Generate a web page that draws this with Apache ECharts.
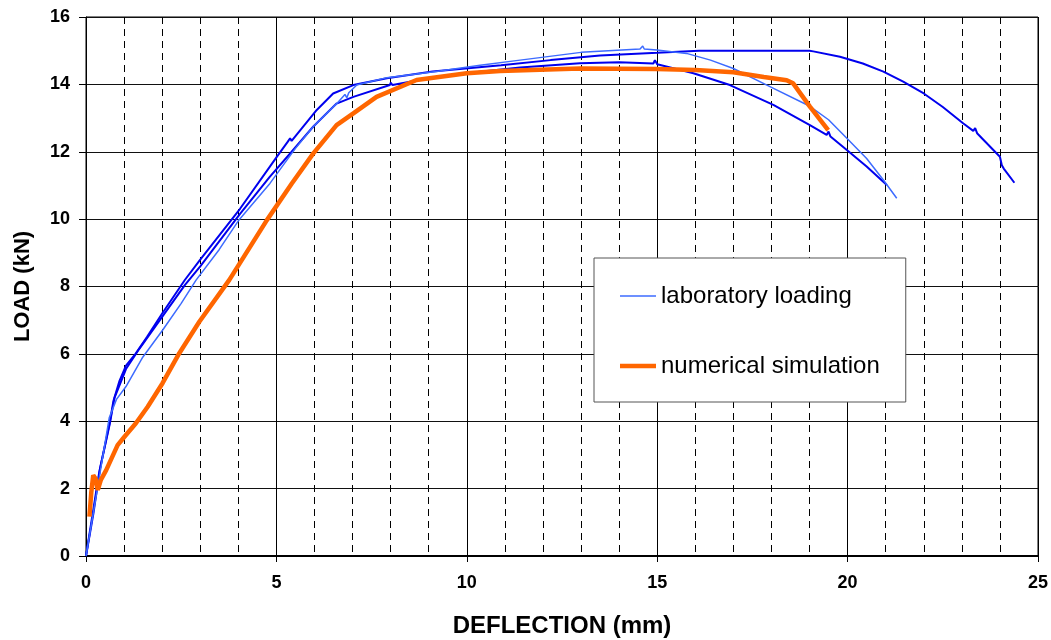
<!DOCTYPE html>
<html>
<head>
<meta charset="utf-8">
<script src="https://cdn.jsdelivr.net/npm/echarts@6/dist/echarts.min.js"></script>
<style>
  html, body { margin: 0; padding: 0; background: #fff; }
  #chart { width: 1051px; height: 640px; }
</style>
</head>
<body>
<div id="chart"></div>
<script>
// deflection (mm), load (kN) pairs
const labA = [
  [0, 0], [0.2, 1.3], [0.37, 2.6], [0.63, 4.0], [0.72, 4.6], [0.88, 5.2], [1.05, 5.65],
  [1.3, 6.0], [1.6, 6.5], [2.0, 7.2], [2.6, 8.2], [3.0, 8.8], [4.04, 10.3], [5.01, 11.85],
  [5.3, 12.3], [5.36, 12.4], [5.4, 12.32], [6.06, 13.24], [6.49, 13.73], [7.02, 13.98],
  [7.9, 14.18], [9.1, 14.38], [10.9, 14.57], [12.2, 14.72], [13.5, 14.86], [15.0, 14.94],
  [16.1, 15.0], [17.5, 15.0], [19.0, 15.0], [19.05, 15.05], [19.1, 14.98], [19.8, 14.82],
  [20.4, 14.62], [20.94, 14.38], [21.46, 14.08], [22.0, 13.73], [22.5, 13.33], [23.04, 12.84],
  [23.3, 12.62], [23.35, 12.7], [23.4, 12.55], [24.0, 11.85], [24.05, 11.6], [24.1, 11.5], [24.38, 11.08]
];
const labB = [
  [0, 0], [0.3, 2.0], [0.61, 4.1], [0.8, 4.65], [1.05, 5.03], [1.49, 5.9], [2.01, 6.7],
  [2.5, 7.5], [2.89, 8.19], [3.5, 9.1], [4.0, 9.95], [4.83, 11.06], [5.5, 12.1], [5.97, 12.75],
  [6.6, 13.45], [6.8, 13.7], [6.85, 13.6], [6.9, 13.75], [7.11, 13.98], [7.9, 14.2], [9.2, 14.38],
  [10.35, 14.57], [11.4, 14.72], [13.0, 14.95], [14.55, 15.05], [14.62, 15.14], [14.66, 15.05],
  [14.99, 15.02], [15.77, 14.92], [16.4, 14.72], [17.0, 14.47], [17.88, 13.98], [19.01, 13.35],
  [19.5, 12.95], [19.98, 12.4], [20.5, 11.8], [20.94, 11.16], [21.29, 10.62]
];
const labC = [
  [0, 0], [0.35, 2.5], [0.62, 3.9], [0.75, 4.7], [1.05, 5.55], [1.4, 6.15], [2.0, 7.1],
  [2.6, 8.05], [3.0, 8.6], [4.04, 10.15], [4.83, 11.26], [5.4, 12.0], [5.97, 12.75],
  [6.58, 13.43], [7.02, 13.63], [7.98, 13.98], [8.0, 14.05], [8.05, 13.98], [9.21, 14.23],
  [10.4, 14.38], [11.4, 14.5], [12.97, 14.63], [14.0, 14.66], [14.9, 14.62], [14.94, 14.72],
  [15.0, 14.6], [15.95, 14.33], [16.91, 13.98], [18.05, 13.39], [19.01, 12.79], [19.45, 12.5],
  [19.5, 12.6], [19.55, 12.45], [19.98, 12.05], [20.5, 11.56], [21.03, 11.01]
];
const simulation = [
  [0.09, 1.17], [0.14, 1.9], [0.19, 2.4], [0.25, 2.3], [0.31, 1.96], [0.39, 2.26], [0.53, 2.55],
  [0.83, 3.29], [1.01, 3.54], [1.31, 3.94], [1.62, 4.43], [2.01, 5.13], [2.45, 6.02],
  [2.98, 6.96], [3.76, 8.19], [4.75, 9.97], [5.4, 11.05], [5.97, 11.95], [6.58, 12.79],
  [7.02, 13.14], [7.63, 13.63], [8.68, 14.13], [10.0, 14.33], [10.87, 14.4], [12.97, 14.47],
  [14.99, 14.46], [16.0, 14.43], [17.0, 14.36], [17.8, 14.22], [18.4, 14.12], [18.57, 14.03],
  [19.01, 13.34], [19.49, 12.64]
];
const xTicks = [0, 5, 10, 15, 20, 25];
const yTicks = [0, 2, 4, 6, 8, 10, 12, 14, 16];

const chart = echarts.init(document.getElementById('chart'));
const boldLabel = { color: '#000', fontFamily: 'Liberation Sans, Arial, sans-serif', fontWeight: 'bold', fontSize: 18 };

// legend icons: plain line stubs (corner points keep the 36x14 box)
const thinLine = 'path://M0,0L0,0M36,14L36,14M0,6.25L36,6.25L36,7.75L0,7.75Z';
const thickLine = 'path://M0,0L0,0M36,14L36,14M0,4.75L36,4.75L36,9.25L0,9.25Z';

chart.setOption({
  animation: false,
  grid: {
    left: 86, right: 13, top: 17, bottom: 84,
    outerBoundsMode: 'none',
    show: true, borderColor: '#000', borderWidth: 1
  },
  legend: {
    orient: 'vertical',
    left: 594,
    top: 258,
    padding: [26, 26, 24, 26],
    itemWidth: 36,
    itemHeight: 14,
    itemGap: 46,
    backgroundColor: '#fff',
    borderColor: '#555',
    borderWidth: 1,
    borderRadius: 0,
    itemStyle: { borderWidth: 0 },
    textStyle: { color: '#000', fontFamily: 'Liberation Sans, Arial, sans-serif', fontSize: 24 },
    data: [
      { name: 'laboratory loading', icon: thinLine },
      { name: 'numerical simulation', icon: thickLine }
    ]
  },
  xAxis: {
    type: 'value',
    min: xTicks[0],
    max: xTicks[xTicks.length - 1],
    interval: 5,
    name: 'DEFLECTION (mm)',
    nameLocation: 'middle',
    nameGap: 58,
    nameTextStyle: Object.assign({}, boldLabel, { fontSize: 24 }),
    axisLine: { lineStyle: { color: '#000', width: 2 } },
    axisTick: { show: true, length: 6, lineStyle: { color: '#000' } },
    axisLabel: Object.assign({ margin: 18 }, boldLabel),
    splitLine: { show: true, lineStyle: { color: '#000', width: 1 } },
    minorTick: { show: false, splitNumber: 5 },
    minorSplitLine: { show: true, lineStyle: { color: '#000', width: 1, type: [7, 5] } }
  },
  yAxis: {
    type: 'value',
    min: yTicks[0],
    max: yTicks[yTicks.length - 1],
    interval: 2,
    name: 'LOAD (kN)',
    nameLocation: 'middle',
    nameRotate: 90,
    nameGap: 52,
    nameTextStyle: Object.assign({}, boldLabel, { fontSize: 22 }),
    axisLine: { show: true, lineStyle: { color: '#000', width: 1 } },
    axisTick: { show: true, length: 7, lineStyle: { color: '#000' } },
    axisLabel: Object.assign({ margin: 16 }, boldLabel),
    splitLine: { show: true, lineStyle: { color: '#111', width: 1 } }
  },
  series: [
    { name: 'lab A', type: 'line', data: labA, showSymbol: false, symbol: 'none', z: 3,
      lineStyle: { color: '#0000ee', width: 2 } },
    { name: 'lab C', type: 'line', data: labC, showSymbol: false, symbol: 'none', z: 3,
      lineStyle: { color: '#0000ee', width: 2 } },
    { name: 'laboratory loading', type: 'line', data: labB, showSymbol: false, symbol: 'none', z: 4,
      itemStyle: { color: '#3d6bff' },
      lineStyle: { color: '#3d6bff', width: 1.5 } },
    { name: 'numerical simulation', type: 'line', data: simulation, showSymbol: false, symbol: 'none', z: 5,
      itemStyle: { color: '#ff6600' },
      lineStyle: { color: '#ff6600', width: 4.5 } }
  ]
});
</script>
</body>
</html>
